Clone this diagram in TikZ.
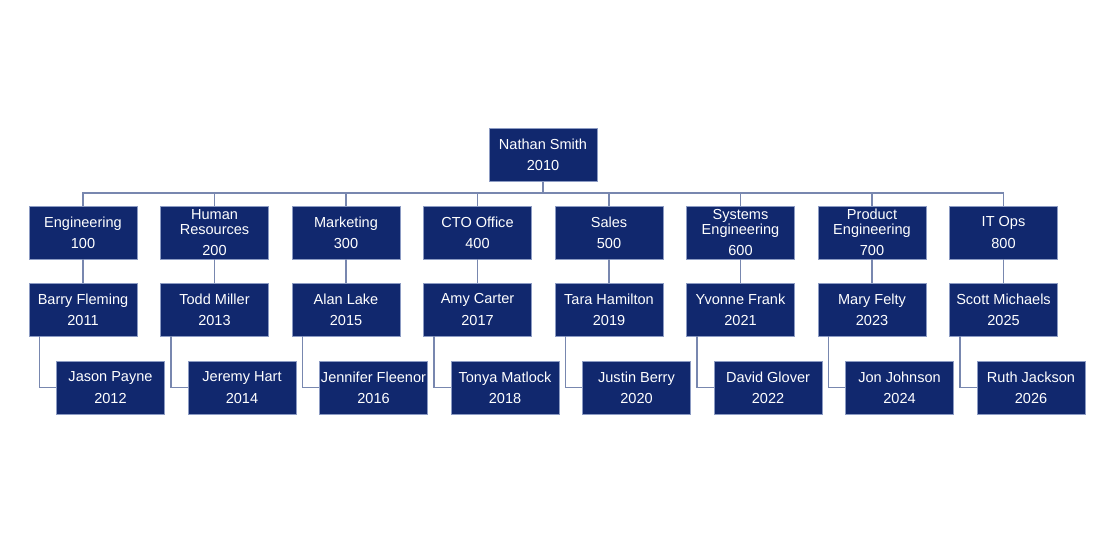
\documentclass[tikz,border=0pt]{standalone}
\usepackage{fontspec}
\setmainfont{Liberation Sans}
\usetikzlibrary{calc}
\definecolor{boxfill}{RGB}{17,40,110}
\definecolor{boxline}{RGB}{140,155,195}
\definecolor{conn}{RGB}{120,135,175}
\begin{document}
\begin{tikzpicture}[x=0.75pt,y=-0.75pt,
  orgbox/.style={draw=boxline,line width=0.6pt,fill=boxfill,text=white,
    minimum width=81pt,minimum height=39.75pt,inner sep=0pt,align=center,
    font=\fontsize{10.9}{11.3}\selectfont},
  link/.style={draw=conn,line width=1.1pt}]
\useasboundingbox (0,0) rectangle (1120,560);
\node[orgbox] (top) at (543,155) {Nathan Smith\\[4.6pt]2010};
\coordinate (bus) at (543,193);
\foreach \i/\dname/\dnum/\pa/\pan/\pb/\pbn in {
  0/Engineering/100/Barry Fleming/2011/Jason Payne/2012,
  1/Human\\Resources/200/Todd Miller/2013/Jeremy Hart/2014,
  2/Marketing/300/Alan Lake/2015/Jennifer Fleenor/2016,
  3/CTO Office/400/Amy Carter/2017/Tonya Matlock/2018,
  4/Sales/500/Tara Hamilton/2019/Justin Berry/2020,
  5/Systems\\Engineering/600/Yvonne Frank/2021/David Glover/2022,
  6/Product\\Engineering/700/Mary Felty/2023/Jon Johnson/2024,
  7/IT Ops/800/Scott Michaels/2025/Ruth Jackson/2026}{
  \pgfmathsetmacro{\cx}{83+131.5*\i}
  \node[orgbox] (d\i) at (\cx,232.5) {\dname\\[4.6pt]\dnum};
  \node[orgbox] (p\i) at (\cx,309.5) {\pa\\[4.6pt]\pan};
  \node[orgbox] (q\i) at (\cx+27.5,387.5) {\pb\\[4.6pt]\pbn};
  \draw[link] (d\i.north) |- (bus);
  \draw[link] (d\i.south) -- (p\i.north);
  \draw[link] ($(p\i.south west)+(11,0)$) |- (q\i.west);
}
\draw[link] (top.south) -- (bus);
\end{tikzpicture}
\end{document}
